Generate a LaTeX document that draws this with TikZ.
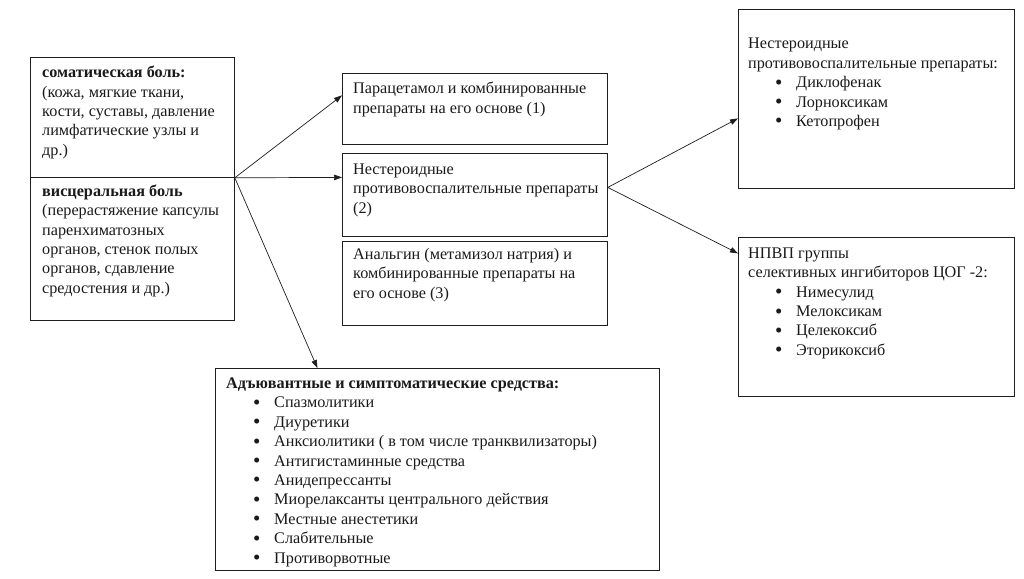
\documentclass[tikz,border=0pt]{standalone}
\usepackage{fontspec}
\setmainfont{Liberation Serif}
\usetikzlibrary{positioning,arrows.meta}
\definecolor{PLine}{HTML}{1E1E1E}
\definecolor{PText}{HTML}{1A1A1A}
\tikzset{
  pbox/.style={draw=PLine,line width=.8pt,anchor=north west,inner sep=0pt},
  ptext/.style={anchor=north west,inner sep=0pt,align=left,text=PText,
    font=\fontsize{16.2}{19.4}\selectfont,execute at begin node=\strut},
  parrow/.style={draw=PLine,line width=.7pt,-{Triangle[length=8pt,width=5.5pt]}}
}
\newcommand{\pitem}[1]{\hspace*{27pt}\makebox[21pt][l]{\raisebox{-1.5pt}{\fontsize{21}{19.4}\selectfont\textbullet}}#1}

\begin{document}
\begin{tikzpicture}[x=1pt,y=-1pt]
\path[use as bounding box] (0,0) rectangle (1024,578);
\fill[white] (0,0) rectangle (1024,578);
% types of pain
\node[pbox,minimum width=204pt,minimum height=120pt] (som) at (30,57) {};
\node[pbox,minimum width=204pt,minimum height=143pt] (vis) at (30,177) {};
\node[ptext,below right=9pt and 12pt of som.north west] (somtxt)
  {\textbf{соматическая боль:}\\(кожа, мягкие ткани,\\кости, суставы, давление\\лимфатические узлы и\\др.)};
\node[ptext,below right=7.5pt and 12pt of vis.north west] (vistxt)
  {\textbf{висцеральная боль}\\(перерастяжение капсулы\\паренхиматозных\\органов, стенок полых\\органов, сдавление\\средостения и др.)};
% drug groups
\node[pbox,minimum width=265pt,minimum height=71pt] (para) at (342,73) {};
\node[pbox,minimum width=265pt,minimum height=83pt] (nsaid) at (342,153) {};
\node[pbox,minimum width=265pt,minimum height=84pt] (anal) at (342,241) {};
\node[ptext,below right=9pt and 11pt of para.north west] (paratxt)
  {Парацетамол и комбинированные\\препараты на его основе (1)};
\node[ptext,below right=10.5pt and 11pt of nsaid.north west] (nsaidtxt)
  {Нестероидные\\противовоспалительные препараты\\(2)};
\node[ptext,below right=7pt and 11pt of anal.north west] (analtxt)
  {Анальгин (метамизол натрия) и\\комбинированные препараты на\\его основе (3)};
% NSAID subgroups
\node[pbox,minimum width=276pt,minimum height=179pt] (nonsel) at (738,9) {};
\node[pbox,minimum width=276pt,minimum height=159pt] (cox) at (738,237) {};
\node[ptext,below right=29pt and 10pt of nonsel.north west] (nonseltxt)
  {Нестероидные\\противовоспалительные препараты:\\\pitem{Диклофенак}\\\pitem{Лорноксикам}\\\pitem{Кетопрофен}};
\node[ptext,below right=10.5pt and 10pt of cox.north west] (coxtxt)
  {НПВП группы\\селективных ингибиторов ЦОГ -2:\\\pitem{Нимесулид}\\\pitem{Мелоксикам}\\\pitem{Целекоксиб}\\\pitem{Эторикоксиб}};
% adjuvant drugs
\node[pbox,minimum width=444pt,minimum height=202pt] (adj) at (215,368) {};
\node[ptext,below right=9.5pt and 11pt of adj.north west] (adjtxt)
  {\textbf{Адъювантные и симптоматические средства:}\\
   \pitem{Спазмолитики}\\\pitem{Диуретики}\\\pitem{Анксиолитики ( в том числе транквилизаторы)}\\
   \pitem{Антигистаминные средства}\\\pitem{Анидепрессанты}\\\pitem{Миорелаксанты центрального действия}\\
   \pitem{Местные анестетики}\\\pitem{Слабительные}\\\pitem{Противорвотные}};
% arrows
\draw[parrow] (som.south east) -- ([yshift=13.5pt]para.west);
\draw[parrow] (som.south east) -- ([yshift=17.5pt]nsaid.west);
\draw[parrow] (som.south east) -- ([xshift=-120pt]adj.north);
\draw[parrow] ([yshift=7.5pt]nsaid.east) -- ([yshift=-19.5pt]nonsel.west);
\draw[parrow] ([yshift=7.5pt]nsaid.east) -- ([yshift=63.5pt]cox.west);
\end{tikzpicture}
\end{document}
